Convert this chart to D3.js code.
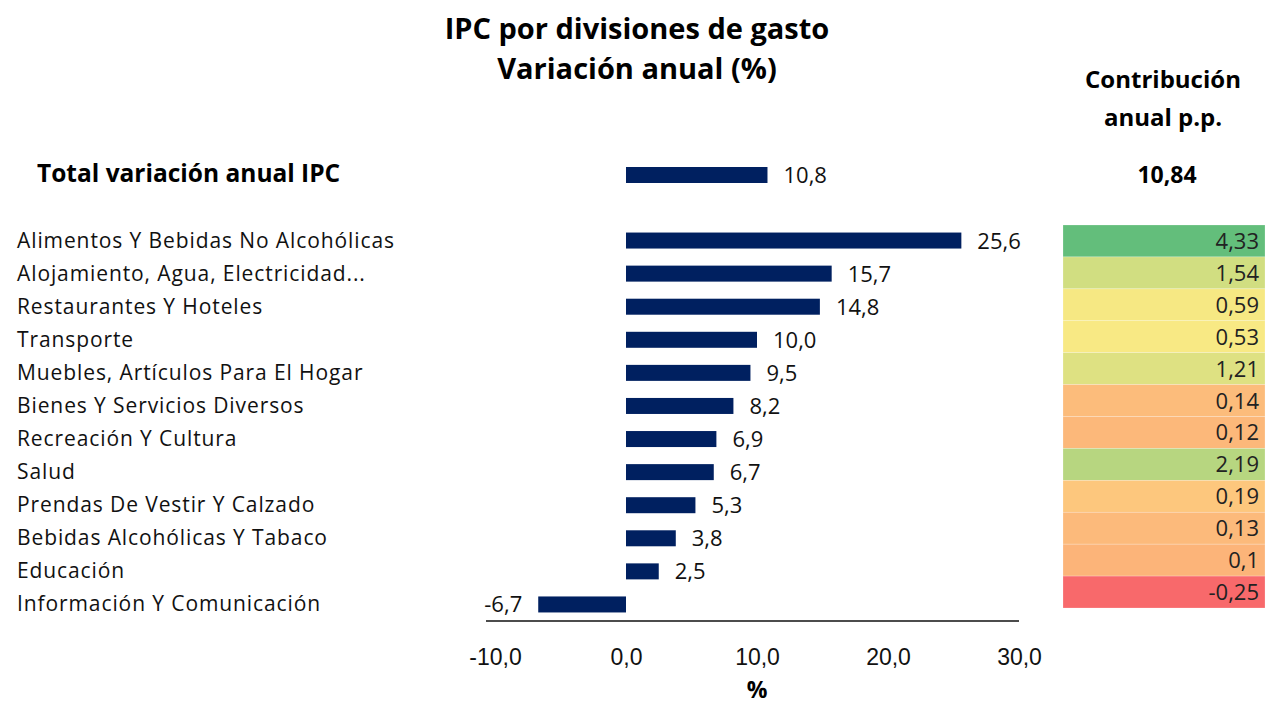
<!DOCTYPE html>
<html><head><meta charset="utf-8">
<script src="https://cdn.jsdelivr.net/npm/d3@7"></script>
<style>body{margin:0;background:#fff;} svg{display:block;font-family:"Segoe UI","Open Sans","Noto Sans",sans-serif;}</style>
</head><body><svg id="c" width="1265" height="707"></svg>
<script>
const categories = ["Alimentos Y Bebidas No Alcohólicas","Alojamiento, Agua, Electricidad...","Restaurantes Y Hoteles","Transporte","Muebles, Artículos Para El Hogar","Bienes Y Servicios Diversos","Recreación Y Cultura","Salud","Prendas De Vestir Y Calzado","Bebidas Alcohólicas Y Tabaco","Educación","Información Y Comunicación"];
const variation = [25.6,15.7,14.8,10.0,9.5,8.2,6.9,6.7,5.3,3.8,2.5,-6.7];
const contribution = [4.33,1.54,0.59,0.53,1.21,0.14,0.12,2.19,0.19,0.13,0.1,-0.25];
const totalLabel = "Total variación anual IPC";
const totalVariation = 10.8;
const totalContribution = 10.84;
const tickValues = [-10,0,10,20,30];

const svg = d3.select("#c");
const fmt1 = v => d3.format(".1f")(v).replace(".", ",").replace("\u2212", "-");
const fmtC = v => String(v).replace(".", ",");

const x = d3.scaleLinear().domain([-10,30]).range([495,1019]);
const y = d3.scaleBand().domain(d3.range(categories.length)).range([224,621]).paddingInner(0);
const yh = d3.scaleBand().domain(d3.range(contribution.length)).range([225,608]).paddingInner(0);
const barH = 16;
const navy = "#002060";

// titles
svg.append("text").attr("x",637).attr("y",39).attr("text-anchor","middle").attr("font-weight","bold").attr("font-size",29).text("IPC por divisiones de gasto");
svg.append("text").attr("x",637).attr("y",79).attr("text-anchor","middle").attr("font-weight","bold").attr("font-size",29).text("Variación anual (%)");
svg.append("text").attr("x",1163).attr("y",88).attr("text-anchor","middle").attr("font-weight","bold").attr("font-size",24).text("Contribución");
svg.append("text").attr("x",1163).attr("y",126).attr("text-anchor","middle").attr("font-weight","bold").attr("font-size",24).text("anual p.p.");

// total row
const totY = 175;
svg.append("text").attr("x",37).attr("y",totY+7).attr("font-weight","bold").attr("font-size",24.5).text(totalLabel);
svg.append("rect").attr("x",x(0)).attr("y",totY-barH/2).attr("width",x(totalVariation)-x(0)).attr("height",barH).attr("fill",navy);
svg.append("text").attr("x",x(totalVariation)+16).attr("y",totY+8).attr("font-size",22).attr("fill","#111").text(fmt1(totalVariation));
svg.append("text").attr("x",1167).attr("y",totY+8).attr("text-anchor","middle").attr("font-weight","bold").attr("font-size",23).text(fmtC(totalContribution));

// category labels
const cy = i => y(i) + y.bandwidth()/2;
svg.selectAll(".lab").data(categories).join("text").attr("x",17).attr("y",(d,i)=>cy(i)+7).attr("font-size",21).attr("letter-spacing",0.9).attr("fill","#111").text(d=>d);

// bars
svg.selectAll(".bar").data(variation).join("rect")
  .attr("x",d=>x(Math.min(0,d))).attr("y",(d,i)=>cy(i)-barH/2)
  .attr("width",d=>Math.abs(x(d)-x(0))).attr("height",barH).attr("fill",navy);
svg.selectAll(".val").data(variation).join("text")
  .attr("x",d=>d<0 ? x(d)-16 : x(d)+16).attr("y",(d,i)=>cy(i)+8)
  .attr("text-anchor",d=>d<0?"end":"start").attr("font-size",22).attr("fill","#111").text(d=>fmt1(d));

// axis
const ax = svg.append("g").attr("transform","translate(0,621)").call(d3.axisBottom(x).tickValues(tickValues).tickSize(0).tickFormat(fmt1));
ax.select(".domain").remove();
ax.selectAll("text").attr("font-size",23).attr("fill","#111").attr("dy","1.8em").attr("font-family","inherit");
svg.append("line").attr("x1",x(-10)-9).attr("x2",x(30)).attr("y1",621).attr("y2",621).attr("stroke","#111").attr("stroke-width",1.5);
svg.append("text").attr("x",757).attr("y",698).attr("text-anchor","middle").attr("font-weight","bold").attr("font-size",23).text("%");

// heatmap
const sorted = contribution.slice().sort(d3.ascending);
const color = d3.scaleLinear().domain([d3.min(contribution), d3.median(sorted), d3.max(contribution)]).range(["#F8696B","#FFEB84","#63BE7B"]);
svg.selectAll(".cell").data(contribution).join("rect")
  .attr("x",1063).attr("y",(d,i)=>yh(i)).attr("width",202).attr("height",yh.bandwidth()).attr("fill",d=>color(d))
  .attr("stroke","rgba(255,255,255,0.35)").attr("stroke-width",0.6);
svg.selectAll(".cval").data(contribution).join("text")
  .attr("x",1259).attr("y",(d,i)=>yh(i)+yh.bandwidth()/2+8).attr("text-anchor","end").attr("font-size",22).attr("fill","#222").text(d=>fmtC(d));
</script></body></html>
